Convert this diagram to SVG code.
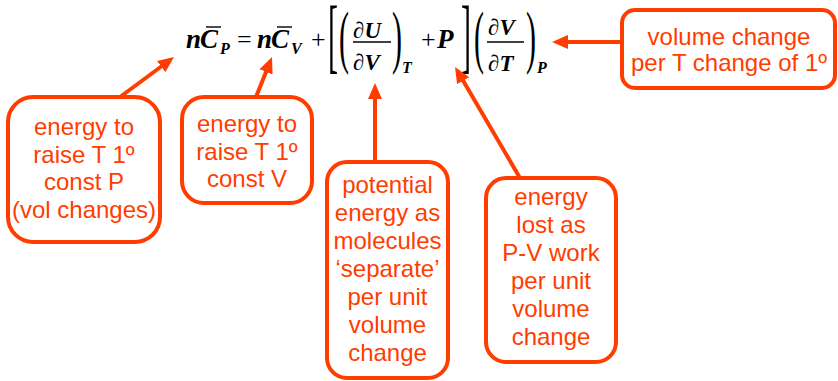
<svg xmlns="http://www.w3.org/2000/svg" width="838" height="381" viewBox="0 0 838 381">
<style>
.box{fill:#fff;stroke:#FF3D00;stroke-width:4}
.lbl{font-family:"Liberation Sans",Arial,sans-serif;font-size:24px;fill:#FF3D00;text-anchor:middle}
.eq{font-family:"Liberation Serif","Times New Roman",serif;font-weight:bold;font-style:italic;fill:#000}
.rm{font-family:"Liberation Serif","Times New Roman",serif;font-weight:normal;font-style:normal;fill:#000}
.con{stroke:#FF3D00;stroke-width:4;fill:none}
.bar{stroke:#000;stroke-width:1.4}
</style>
<defs>
<marker id="ah" markerUnits="userSpaceOnUse" markerWidth="16" markerHeight="14" refX="6" refY="7" orient="auto">
<path d="M0,0 L16,7 L0,14 z" fill="#FF3D00"/>
</marker>
</defs>
<rect width="838" height="381" fill="#fff"/>

<g id="equation">
<text class="eq" x="186" y="48" font-size="27">n</text>
<text class="eq" x="200" y="48" font-size="27">C</text>
<line class="bar" x1="206" y1="27" x2="221" y2="27"/>
<text class="eq" x="220" y="54" font-size="16">P</text>
<text class="rm" x="237" y="48" font-size="26">=</text>
<text class="eq" x="257" y="48" font-size="27">n</text>
<text class="eq" x="271" y="48" font-size="27">C</text>
<line class="bar" x1="277" y1="27" x2="292" y2="27"/>
<text class="eq" x="291" y="54" font-size="16">V</text>
<text class="rm" x="311" y="48" font-size="26">+</text>
<text class="rm" transform="translate(328,63) scale(1,2.78)" font-size="30">[</text>
<text class="rm" transform="translate(339,60) scale(1,2.35)" font-size="30">(</text>
<text class="rm" x="353" y="38" font-size="23">∂<tspan class="eq">U</tspan></text>
<line class="bar" x1="353" y1="42" x2="391" y2="42"/>
<text class="rm" x="353" y="70" font-size="23">∂<tspan class="eq">V</tspan></text>
<text class="rm" transform="translate(392,60) scale(1,2.35)" font-size="30">)</text>
<text class="eq" x="402" y="73" font-size="16">T</text>
<text class="rm" x="421" y="48" font-size="26">+</text>
<text class="eq" x="437" y="48" font-size="27">P</text>
<text class="rm" transform="translate(461,63) scale(1,2.78)" font-size="30">]</text>
<text class="rm" transform="translate(474,60) scale(1,2.35)" font-size="30">(</text>
<text class="rm" x="488" y="35" font-size="23">∂<tspan class="eq">V</tspan></text>
<line class="bar" x1="487" y1="42" x2="524" y2="42"/>
<text class="rm" x="488" y="71" font-size="23">∂<tspan class="eq">T</tspan></text>
<text class="rm" transform="translate(526,60) scale(1,2.35)" font-size="30">)</text>
<text class="eq" x="537" y="73" font-size="16">P</text>
</g>

<g id="connectors">
<line class="con" x1="120" y1="97" x2="166" y2="63" marker-end="url(#ah)"/>
<line class="con" x1="256" y1="97" x2="268.3" y2="66.3" marker-end="url(#ah)"/>
<line class="con" x1="375" y1="162" x2="375" y2="93" marker-end="url(#ah)"/>
<line class="con" x1="520" y1="178" x2="460.1" y2="75.6" marker-end="url(#ah)"/>
<line class="con" x1="622" y1="42" x2="562" y2="42" marker-end="url(#ah)"/>
</g>

<g id="node-cp">
<rect class="box" x="8" y="97" width="152" height="145" rx="25"/>
<text class="lbl" x="84" y="135">energy to</text>
<text class="lbl" x="84" y="163">raise T 1º</text>
<text class="lbl" x="84" y="190">const P</text>
<text class="lbl" x="84" y="218">(vol changes)</text>
</g>

<g id="node-cv">
<rect class="box" x="182" y="97" width="130" height="106" rx="22"/>
<text class="lbl" x="247" y="132">energy to</text>
<text class="lbl" x="247" y="160">raise T 1º</text>
<text class="lbl" x="247" y="187">const V</text>
</g>

<g id="node-potential">
<rect class="box" x="327" y="162" width="121" height="216" rx="20"/>
<text class="lbl" x="387.5" y="193">potential</text>
<text class="lbl" x="387.5" y="221">energy as</text>
<text class="lbl" x="387.5" y="249">molecules</text>
<text class="lbl" x="387.5" y="277">‘separate’</text>
<text class="lbl" x="387.5" y="305">per unit</text>
<text class="lbl" x="387.5" y="333">volume</text>
<text class="lbl" x="387.5" y="361">change</text>
</g>

<g id="node-pv">
<rect class="box" x="486" y="178" width="130" height="184" rx="20"/>
<text class="lbl" x="551" y="205">energy</text>
<text class="lbl" x="551" y="233">lost as</text>
<text class="lbl" x="551" y="261">P-V work</text>
<text class="lbl" x="551" y="289">per unit</text>
<text class="lbl" x="551" y="317">volume</text>
<text class="lbl" x="551" y="345">change</text>
</g>

<g id="node-volume">
<rect class="box" x="622" y="10" width="213" height="78" rx="13"/>
<text class="lbl" x="729" y="45">volume change</text>
<text class="lbl" x="729" y="71">per T change of 1º</text>
</g>
</svg>
